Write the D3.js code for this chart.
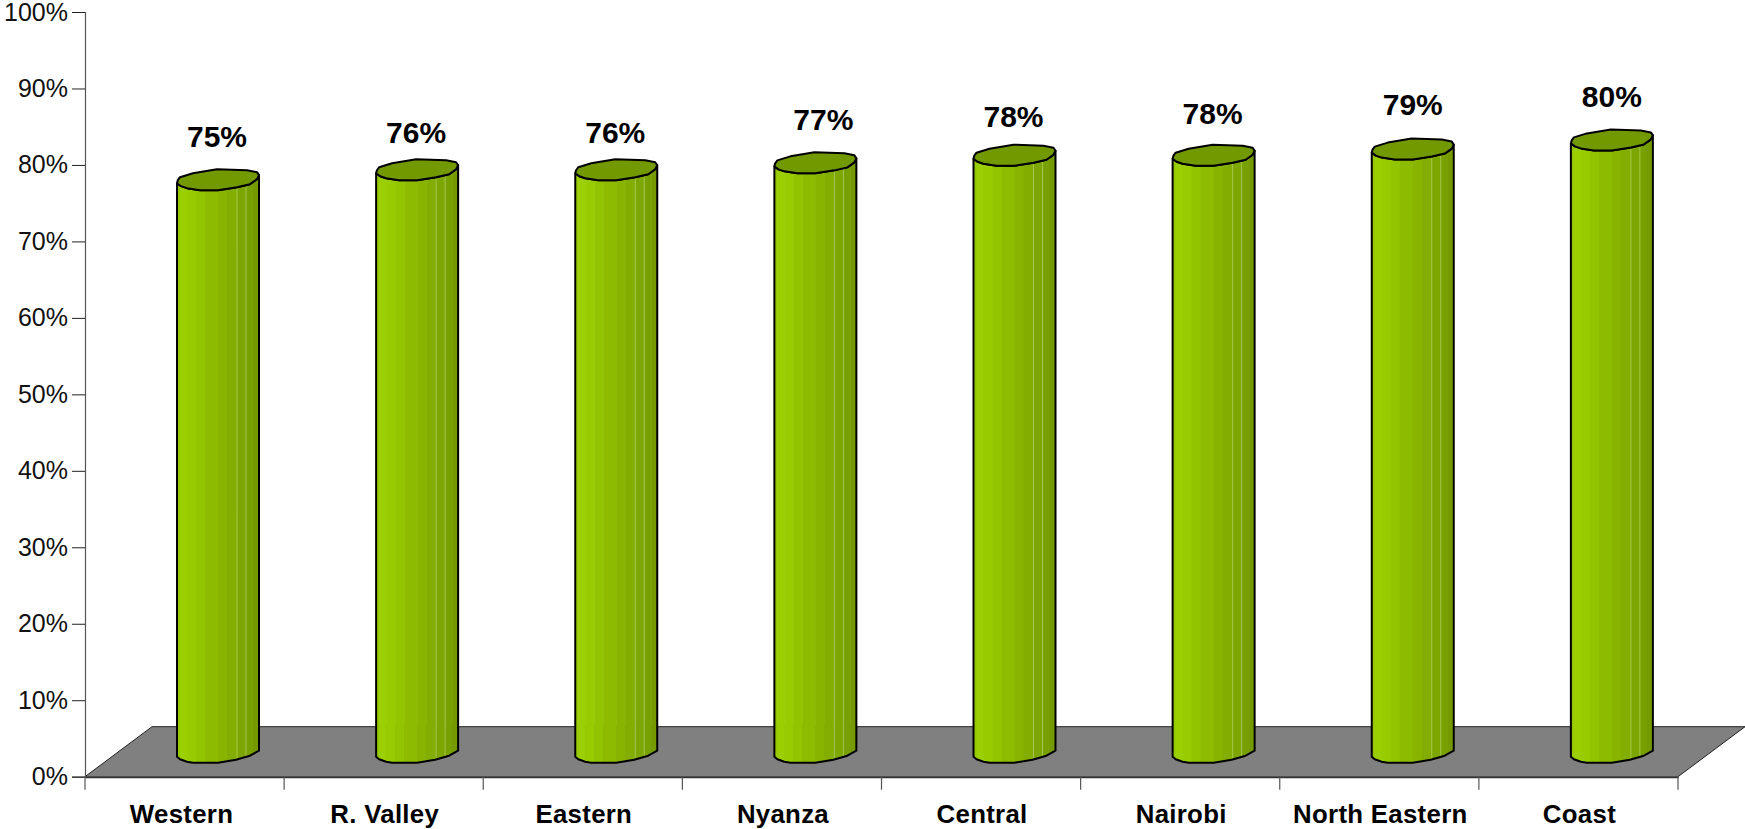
<!DOCTYPE html>
<html><head><meta charset="utf-8">
<script src="https://cdnjs.cloudflare.com/ajax/libs/d3/7.8.5/d3.min.js"></script>
<style>html,body{margin:0;padding:0;background:#fff;overflow:hidden}svg{display:block}text{font-family:"Liberation Sans",Arial,sans-serif}</style>
</head><body><svg id="c" width="1745" height="829"></svg>
<script>
const categories = ["Western","R. Valley","Eastern","Nyanza","Central","Nairobi","North Eastern","Coast"];
const values = [75,76.3,76.3,77.2,78.2,78.2,79,80.2];
const yTicks = [0,10,20,30,40,50,60,70,80,90,100];

const labelNudge=[-1,4.5,4.5,-1,3.5,0,-3,-1];
const labelNudgeX=[0,0,0,9,0,0,1,1];
const catNudgeX=[-4,0,0,0,0,0,0,0];
const L=85,R=1678,Y0=776.7,Y100=12,depthX=67,depthY=-50;
const svg=d3.select("#c");
const y=d3.scaleLinear().domain([0,100]).range([Y0,Y100]);
const x=d3.scaleBand().domain(categories).range([L,R]);
const line=d3.line();

// floor
const floor=[[L,Y0],[L+depthX,Y0+depthY],[R+depthX,Y0+depthY],[R,Y0]];
svg.append("path").attr("d",line(floor)+"Z").attr("fill","#808080");
svg.append("path").attr("d",line(floor)).attr("fill","none").attr("stroke","#222").attr("stroke-width",1);

// axes
const yAxis=svg.append("g").attr("transform",`translate(${L},0)`).call(d3.axisLeft(y).tickValues(yTicks).tickSize(13).tickPadding(4).tickFormat(d=>d+"%"));
yAxis.select(".domain").attr("stroke","#555").attr("stroke-width",1.2);
yAxis.selectAll("line").attr("stroke","#222").attr("stroke-width",1);
yAxis.selectAll("text").attr("font-size",25).attr("fill","#111").style("font-family",'"Liberation Sans"');

const xAxis=svg.append("g").attr("transform",`translate(1,${Y0})`).call(d3.axisBottom(x).tickSize(0).tickPadding(28));
xAxis.select(".domain").attr("transform","translate(-1,0)").attr("stroke","#333").attr("stroke-width",2);
xAxis.selectAll("text").attr("dx",(d,i)=>catNudgeX[i]).attr("font-size",25.8).attr("font-weight","bold").attr("fill","#000").attr("letter-spacing",0.3).style("font-family",'"Liberation Sans"');
svg.append("g").selectAll("line").data(d3.range(categories.length+1)).join("line")
  .attr("x1",i=>L+i*x.step()).attr("x2",i=>L+i*x.step()).attr("y1",Y0).attr("y2",Y0+13).attr("stroke","#555").attr("stroke-width",1.2);

// cylinder shape, relative to bar-left / left-edge level
const W=82, padL=92;
const topBack=[[0,0],[0.8,-3],[3,-6],[16,-10],[40,-14],[70,-13],[80,-11],[82,-8]];
const frontTop=[[0,0],[4,3],[10,5],[23,7],[41,7],[60,4],[73,1],[80,-4],[82,-8]];
const bottomOutline=[[82,-6],[73,-1],[59,3],[41,6],[16,6],[10,5],[3,2.5],[0,0]];
const stripEdges=[0,3,10,19,28,41,50,60,69,76,82];
const stripColors=["#96c800","#9ccf00","#98cb00","#93c400","#8dbb00","#88b400","#83ad00","#7da600","#78a000","#749a00"];
const paleEdges=[60,69];
const shift=-20, baseShift=-20;

const bars=svg.append("g").selectAll("g").data(categories.map((c,i)=>({c,v:values[i]}))).join("g");
bars.each(function(d,i){
  const g=d3.select(this), x0=x(d.c)+padL, yt=y(d.v)+shift, yb=y(0)+baseShift;
  const body=[...frontTop.map(p=>[x0+p[0],yt+p[1]]),...bottomOutline.map(p=>[x0+p[0],yb+p[1]])];
  const id="clip"+i;
  svg.append("clipPath").attr("id",id).append("path").attr("d",line(body)+"Z");
  const s=g.append("g").attr("clip-path",`url(#${id})`);
  s.selectAll("rect").data(stripColors).join("rect")
    .attr("x",(c,k)=>x0+stripEdges[k]).attr("width",(c,k)=>stripEdges[k+1]-stripEdges[k]+0.5)
    .attr("y",yt-20).attr("height",yb-yt+40).attr("fill",c=>c);
  s.selectAll("line").data(paleEdges).join("line")
    .attr("x1",e=>x0+e).attr("x2",e=>x0+e).attr("y1",yt-20).attr("y2",yb+20)
    .attr("stroke","#b4cf66").attr("stroke-width",1).attr("opacity",0.75);
  g.append("path").attr("d",line(body)+"Z").attr("fill","none").attr("stroke","#000").attr("stroke-width",2).attr("stroke-linejoin","round");
  const topShape=[...topBack,...frontTop.slice().reverse().slice(1,-1)];
  g.append("path").attr("d",line(topShape.map(p=>[x0+p[0],yt+p[1]]))+"Z").attr("fill","#739900").attr("stroke","#000").attr("stroke-width",2).attr("stroke-linejoin","round");
  g.append("text").attr("x",x0+W/2-1+labelNudgeX[i]).attr("y",yt-35+labelNudge[i]).attr("text-anchor","middle")
    .attr("font-size",30).attr("font-weight","bold").attr("fill","#000").text(Math.round(d.v)+"%");
});
</script></body></html>
